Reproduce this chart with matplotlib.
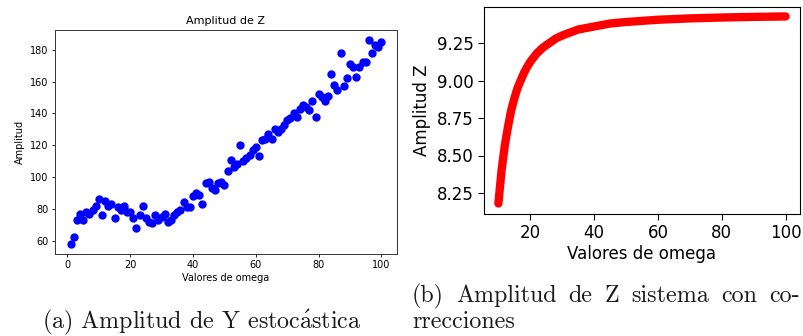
import matplotlib
matplotlib.use("Agg")
import matplotlib.pyplot as plt

plt.rcParams['mathtext.fontset'] = 'cm'

# Left panel data (stochastic amplitude)
omega_a = list(range(1, 101))
amp_a = [58, 62, 73, 77, 73, 78, 77, 79, 82, 86,
         76, 85, 82, 83, 74, 81, 79, 82, 78, 78,
         74, 68, 76, 82, 74, 72, 71, 76, 73, 75,
         77, 72, 73, 76, 78, 79, 84, 81, 81, 88,
         90, 89, 83, 96, 97, 93, 92, 96, 97, 95,
         104, 111, 106, 108, 120, 110, 112, 114, 117, 119,
         113, 123, 124, 127, 124, 130, 128, 130, 133, 136,
         137, 140, 138, 143, 145, 144, 142, 148, 138, 152,
         150, 148, 151, 165, 158, 155, 178, 157, 162, 171,
         169, 163, 169, 172, 172, 186, 178, 183, 182, 185]

# Right panel data (corrected system)
omega_b = [10, 11, 12, 13, 14, 15, 16, 17, 18, 19, 20, 22, 24, 26, 28, 30,
           35, 40, 45, 50, 60, 70, 80, 90, 100]
amp_b = [8.18, 8.40, 8.565, 8.69, 8.80, 8.88, 8.95, 9.00, 9.05, 9.09, 9.125,
         9.18, 9.22, 9.25, 9.28, 9.30, 9.34, 9.36, 9.38, 9.39, 9.405, 9.414,
         9.42, 9.424, 9.427]

fig = plt.figure(figsize=(8.04, 3.36), dpi=100)
W, H = 804, 336

def ax_px(l, t, r, b):
    return fig.add_axes([l / W, 1 - b / H, (r - l) / W, (b - t) / H])

ax1 = ax_px(55, 30, 397, 254)
ax1.plot(omega_a, amp_a, 'o', color='blue', markersize=5)
ax1.set_title("Amplitud de Z", fontsize=8, pad=4)
ax1.set_xlabel("Valores de omega", fontsize=7, labelpad=2)
ax1.set_ylabel("Amplitud", fontsize=7, labelpad=4)
ax1.tick_params(labelsize=7, length=2.5, width=0.6, pad=2)
ax1.set_xticks([0, 20, 40, 60, 80, 100])
ax1.set_yticks([60, 80, 100, 120, 140, 160, 180])
for s in ax1.spines.values():
    s.set_linewidth(0.7)
    s.set_color('#333333')

ax2 = ax_px(484, 7, 800, 214)
ax2.plot(omega_b, amp_b, '-', color='red', linewidth=6, solid_capstyle='round',
         solid_joinstyle='round')
ax2.set_xlim(5.5, 104.5)
ax2.set_ylim(8.11, 9.49)
ax2.set_xticks([20, 40, 60, 80, 100])
ax2.set_yticks([8.25, 8.50, 8.75, 9.00, 9.25])
ax2.set_yticklabels(["8.25", "8.50", "8.75", "9.00", "9.25"])
ax2.tick_params(labelsize=12, length=4, width=0.8)
ax2.set_xlabel("Valores de omega", fontsize=12, labelpad=2)
ax2.set_ylabel("Amplitud Z", fontsize=12, labelpad=4)

cap = dict(family=['cmr10', 'DejaVu Serif'], fontsize=17.3, color='#1a1a1a')
fig.text(42 / W, 1 - 322 / H, r"(a) Amplitud de Y estoc$\mathrm{\acute{a}}$stica",
         ha='left', va='center', **cap)

# justified first line of caption (b)
words = ["(b)", "Amplitud", "de", "Z", "sistema", "con", "co-"]
x0, x1 = 412, 800
texts = [fig.text(0, 1 - 296 / H, w, ha='left', va='center', **cap) for w in words]
fig.canvas.draw()
r = fig.canvas.get_renderer()
widths = [t.get_window_extent(r).width for t in texts]
gap = (x1 - x0 - sum(widths)) / (len(words) - 1)
x = x0
for t, w in zip(texts, widths):
    t.set_x(x / W)
    x += w + gap
fig.text(412 / W, 1 - 322 / H, "rrecciones", ha='left', va='center', **cap)

fig.savefig("out.png", dpi=100)
